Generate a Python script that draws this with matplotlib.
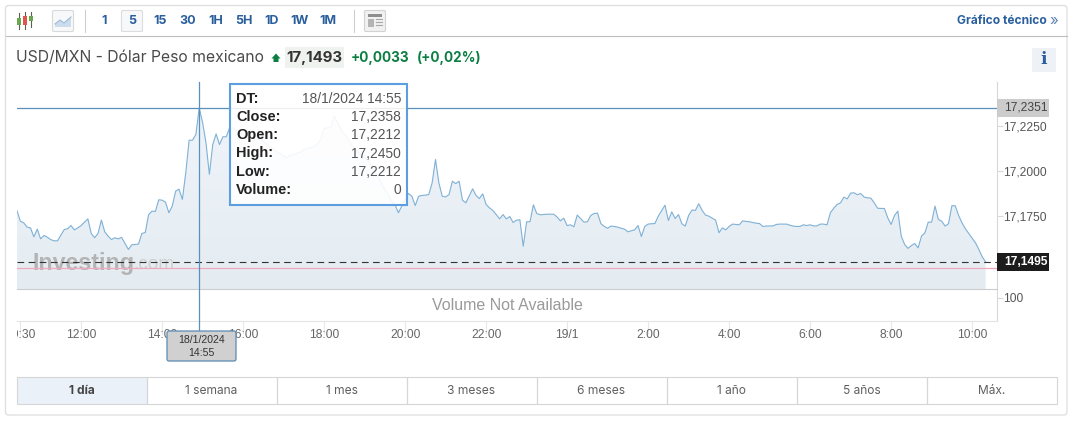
import numpy as np
import matplotlib
matplotlib.use("Agg")
import matplotlib.pyplot as plt
from matplotlib.colors import LinearSegmentedColormap
from matplotlib.patches import FancyBboxPatch, Polygon, Rectangle
from matplotlib.transforms import Bbox

# 5 minute closes from 18/1 10:25 to 19/1 10:20
close = [
    17.1779, 17.1721, 17.1712, 17.1688, 17.1684, 17.1634, 17.1677, 17.1623, 17.1642, 17.1632,
    17.1619, 17.1612, 17.1612, 17.1643, 17.1675, 17.1679, 17.1697, 17.1673, 17.1684, 17.1697,
    17.1716, 17.1734, 17.1653, 17.1629, 17.1653, 17.1727, 17.1662, 17.1638, 17.1619, 17.1629,
    17.1623, 17.1631, 17.1597, 17.1564, 17.1590, 17.1592, 17.1594, 17.1653, 17.1658, 17.1758,
    17.1777, 17.1775, 17.1840, 17.1838, 17.1827, 17.1768, 17.1805, 17.1888, 17.1899, 17.1842,
    17.1990, 17.2171, 17.2171, 17.2203, 17.2350, 17.2268, 17.2156, 17.1981, 17.2147, 17.2206,
    17.2147, 17.2190, 17.2190, 17.2240,
    # behind the tooltip, only faintly visible
    17.2238, 17.2225, 17.2215, 17.2200, 17.2190, 17.2172, 17.2165, 17.2178, 17.2180, 17.2160,
    17.2150, 17.2132, 17.2120, 17.2105, 17.2095, 17.2082, 17.2075, 17.2088, 17.2090, 17.2098,
    17.2105, 17.2118, 17.2125, 17.2130, 17.2135, 17.2150, 17.2175, 17.2235, 17.2240, 17.2245,
    17.2303, 17.2270, 17.2230, 17.2205, 17.2180, 17.2150, 17.2120, 17.2105, 17.2090, 17.2072,
    17.2060, 17.2030, 17.2000, 17.1965, 17.1930, 17.1895, 17.1870,
    17.1832, 17.1814, 17.1768, 17.1805, 17.1842, 17.1875, 17.1860, 17.1808, 17.1860, 17.1864,
    17.1866, 17.1869, 17.1934, 17.2064, 17.1934, 17.1860, 17.1856, 17.1869, 17.1943, 17.1930,
    17.1943, 17.1838, 17.1823, 17.1862, 17.1901, 17.1864, 17.1847, 17.1873, 17.1814, 17.1795,
    17.1781, 17.1757, 17.1734, 17.1758, 17.1734, 17.1747, 17.1714, 17.1727, 17.1729, 17.1582,
    17.1718, 17.1718, 17.1812, 17.1764, 17.1757, 17.1758, 17.1760, 17.1760, 17.1760, 17.1745,
    17.1723, 17.1738, 17.1697, 17.1701, 17.1690, 17.1755, 17.1736, 17.1716, 17.1718, 17.1753,
    17.1764, 17.1766, 17.1708, 17.1692, 17.1682, 17.1694, 17.1692, 17.1688, 17.1682, 17.1677,
    17.1662, 17.1668, 17.1673, 17.1697, 17.1636, 17.1692, 17.1705, 17.1707, 17.1708, 17.1749,
    17.1779, 17.1810, 17.1725, 17.1773, 17.1736, 17.1758, 17.1707, 17.1694, 17.1753, 17.1783,
    17.1781, 17.1818, 17.1781, 17.1755, 17.1749, 17.1738, 17.1727, 17.1657, 17.1684, 17.1673,
    17.1692, 17.1705, 17.1703, 17.1701, 17.1723, 17.1720, 17.1718, 17.1714, 17.1710, 17.1708,
    17.1692, 17.1694, 17.1695, 17.1695, 17.1703, 17.1705, 17.1705, 17.1705, 17.1699, 17.1694,
    17.1692, 17.1692, 17.1701, 17.1697, 17.1701, 17.1695, 17.1695, 17.1705, 17.1705, 17.1701,
    17.1768, 17.1793, 17.1814, 17.1823, 17.1855, 17.1845, 17.1877, 17.1879, 17.1868, 17.1875,
    17.1855, 17.1851, 17.1849, 17.1823, 17.1793, 17.1792, 17.1792, 17.1740, 17.1703, 17.1753,
    17.1777, 17.1638, 17.1592, 17.1570, 17.1586, 17.1597, 17.1573, 17.1638, 17.1656, 17.1716,
    17.1716, 17.1805, 17.1731, 17.1721, 17.1694, 17.1707, 17.1807, 17.1807, 17.1753, 17.1712,
    17.1679, 17.1653, 17.1627, 17.1601, 17.1564, 17.1523, 17.1495,
]

time_ticks = [1, 19, 43, 67, 91, 115, 139, 163, 187, 211, 235, 259, 283]
time_labels = ["10:30", "12:00", "14:00", "16:00", "18:00", "20:00", "22:00",
               "19/1", "2:00", "4:00", "6:00", "8:00", "10:00"]
price_ticks = [17.2250, 17.2000, 17.1750]
price_labels = ["17,2250", "17,2000", "17,1750"]

hover_bar = 54
hover_price = 17.2351
last_price = 17.1495
prev_close = 17.1460

tooltip_rows = [("DT:", "18/1/2024 14:55"), ("Close:", "17,2358"), ("Open:", "17,2212"),
                ("High:", "17,2450"), ("Low:", "17,2212"), ("Volume:", "0")]
intervals = ["1", "5", "15", "30", "1H", "5H", "1D", "1W", "1M"]
ranges = ["1 día", "1 semana", "1 mes", "3 meses", "6 meses", "1 año", "5 años", "Máx."]

W, H = 1074, 423
ARIAL = "Liberation Sans"
INTER = "Inter"
BLUE = "#2a5f9e"
GREEN = "#0b7f42"


def pt(px):
    return px * 0.72


def axes_at(left, top, right, bottom, **kw):
    return fig.add_axes([left / W, 1 - bottom / H, (right - left) / W, (bottom - top) / H], **kw)


def box(ax, x0, y0, x1, y1, fc, ec="none", lw=0.7, r=1.5, **kw):
    ax.add_patch(FancyBboxPatch((x0, y0), x1 - x0, y1 - y0, boxstyle=f"round,pad=0,rounding_size={r}",
                                fc=fc, ec=ec, lw=lw, **kw))


fig = plt.figure(figsize=(W / 100, H / 100), dpi=100, facecolor="white")

# page chrome, in pixel coordinates
bg = axes_at(0, 0, W, H)
bg.set_xlim(0, W)
bg.set_ylim(H, 0)
bg.axis("off")
box(bg, 5.5, 5.5, 1067, 415, "white", "#dedede", 0.9, r=3)
bg.plot([5.5, 1067], [36.5, 36.5], color="#bdbdbd", lw=0.8)

# toolbar
for sx in (84.5, 353.5):
    bg.plot([sx, sx], [10, 32], color="#cfcfcf", lw=0.8)
for cx, y0, y1, b0, b1, col in [(19, 13, 29, 18, 25, "#6aa84f"), (25, 12, 29, 16, 25, "#e0564f"),
                                (31, 12, 27, 16, 21, "#6aa84f")]:
    bg.plot([cx, cx], [y0, y1], color="#5f5f4f", lw=0.8)
    bg.add_patch(Rectangle((cx - 2, b0), 4, b1 - b0, fc=col, ec="none", zorder=3))
box(bg, 52.5, 10.5, 73.5, 31.5, "#f6f8fa", "#d9d9d9", 0.8)
bg.add_patch(Polygon([(55, 27), (55, 24), (60, 20), (64, 23), (71, 17), (71, 27)], fc="#cbdcec", ec="none"))
bg.plot([55, 60, 64, 71], [24, 20, 23, 17], color="#9dbbd6", lw=0.8)
box(bg, 121.5, 10.5, 142.5, 31.5, "#f6f8fa", "#dcdcdc", 0.8)
for i, lab in enumerate(intervals):
    bg.text(104 + 28 * i, 21, lab, family=INTER, weight="bold", size=pt(12.5), color=BLUE, ha="center", va="center")
box(bg, 364.5, 10.5, 385.5, 31.5, "#f1f1f1", "#d2d2d2", 0.8)
bg.add_patch(Rectangle((368, 14), 14, 3, fc="#8e8e8e", ec="none", zorder=3))
bg.add_patch(Rectangle((368, 19), 6, 8, fc="#b4b4b4", ec="none", zorder=3))
for ly in (19.5, 22.5, 25.5):
    bg.plot([376, 382], [ly, ly], color="#a8a8a8", lw=0.8)
bg.text(957, 21, "Gráfico técnico", family=INTER, weight="bold", size=pt(12), color=BLUE, ha="left", va="center")
bg.text(1054, 20.5, "»", family=INTER, size=pt(15), color="#5c83b0", ha="center", va="center")

# quote line
bg.text(16, 58, "USD/MXN - Dólar Peso mexicano", family=INTER, size=pt(15.7), color="#4a4a4a", ha="left", va="center")
bg.add_patch(Polygon([(276, 53.5), (280.5, 58.5), (278.5, 58.5), (278.5, 62), (273.5, 62),
                      (273.5, 58.5), (271.5, 58.5)], fc=GREEN, ec="none"))
box(bg, 285, 47, 344, 68, "#eef3ef", r=1)
bg.text(314.5, 58, "17,1493", family=INTER, weight="bold", size=pt(15), color="#333333", ha="center", va="center")
bg.text(351, 58, "+0,0033", family=INTER, weight="bold", size=pt(13.5), color=GREEN, ha="left", va="center")
bg.text(417, 58, "(+0,02%)", family=INTER, weight="bold", size=pt(13.5), color=GREEN, ha="left", va="center")
box(bg, 1032, 48, 1056, 72, "#eef1f5", r=1)
bg.text(1044, 60, "i", family="DejaVu Serif", weight="bold", size=pt(17), color=BLUE, ha="center", va="center")

# range tabs
bg.add_patch(Rectangle((16.5, 377.5), 130, 27, fc="#eaf1f8", ec="none"))
for i, lab in enumerate(ranges):
    bg.add_patch(Rectangle((16.5 + 130 * i, 377.5), 130, 27, fc="none", ec="#d6d6d6", lw=0.8))
    bg.text(81.5 + 130 * i, 390.5, lab, family=INTER, size=pt(12), weight="bold" if i == 0 else "normal",
            color="#444444" if i == 0 else "#5f5f5f", ha="center", va="center")

# volume pane with the time axis under it
vol = axes_at(17, 289, 997, 321)
vol.patch.set_visible(False)
vol.set_xlim(0, 980 / 3.375)
vol.set_ylim(0, 139)
for side in ("left", "top"):
    vol.spines[side].set_visible(False)
vol.spines["bottom"].set_color("#e4e4e4")
vol.spines["right"].set_color("#d8d8d8")
vol.set_xticks(time_ticks, time_labels)
vol.tick_params(axis="x", length=9, width=0.8, color="#e8e8e8", pad=-3, labelsize=pt(12), labelcolor="#666666")
vol.yaxis.tick_right()
vol.set_yticks([100], ["100"])
vol.tick_params(axis="y", length=4, width=0.8, color="#d8d8d8", pad=0.5, labelsize=pt(12), labelcolor="#555555")
left_clip = Bbox.from_extents(17, 0, W, H)
for lab in vol.get_xticklabels() + vol.get_yticklabels():
    lab.set_family(ARIAL)
    lab.set_clip_box(left_clip)
    lab.set_clip_on(True)
vol.text(0.5, 0.5, "Volume Not Available", transform=vol.transAxes, family=ARIAL, size=pt(16),
         color="#9a9a9a", ha="center", va="center")

# price pane
ax = axes_at(17, 82, 997, 289)
ax.patch.set_visible(False)
bars = np.arange(len(close))
values = np.array(close)
ylim = (17.13444, 17.24944)
xlim = (0, 980 / 3.375)

cmap = LinearSegmentedColormap.from_list("fade", ["#eff4f9", "#e4ecf2"])
area = ax.fill_between(bars, values, ylim[0], facecolor="none", edgecolor="none")
shade = ax.imshow(np.linspace(0, 1, 64)[:, None], extent=(0, bars[-1], ylim[0], 17.2350), origin="upper",
                  aspect="auto", cmap=cmap, zorder=1)
shade.set_clip_path(area.get_paths()[0], transform=ax.transData)
ax.text(15 / 3.375, 17.1485, "Investing", family=ARIAL, weight="bold", size=pt(23.3), color="#b4b4b4",
        ha="left", va="center", zorder=2)
ax.text(116 / 3.375, 17.1480, ".com", family=ARIAL, size=pt(19), color="#cfcfcf", ha="left", va="center", zorder=2)
ax.plot(bars, values, color="#7fb1d6", lw=0.8, zorder=3)
ax.axhline(prev_close, color="#f0a8bd", lw=0.9, zorder=3)
ax.axhline(last_price, color="#333333", lw=0.8, dashes=(6, 4), zorder=4)
ax.axhline(hover_price, color="#5b90bd", lw=0.9, zorder=4)
ax.axvline(hover_bar, ymin=(289 - 335) / 207, ymax=1, color="#5b90bd", lw=0.9, clip_on=False, zorder=4)
ax.set_xlim(xlim)
ax.set_ylim(ylim)
for side in ("left", "top", "bottom"):
    ax.spines[side].set_visible(False)
ax.spines["right"].set_color("#d8d8d8")
ax.spines["bottom"].set_visible(True)
ax.spines["bottom"].set_color("#cccccc")
ax.set_xticks([])
ax.yaxis.tick_right()
ax.set_yticks(price_ticks, price_labels)
ax.tick_params(axis="y", length=4, width=0.8, color="#d8d8d8", pad=0.5, labelsize=pt(12), labelcolor="#555555")
for lab in ax.get_yticklabels():
    lab.set_family(ARIAL)

# price flags on the right axis
flag = ax.get_yaxis_transform()
for price, label, fc, tc, weight in [(hover_price, "17,2351", "#cccccc", "#444444", "normal"),
                                     (last_price, "17,1495", "#1c1c1c", "white", "bold")]:
    ax.add_patch(Rectangle((1, price - 0.005), 52 / 980, 0.01, transform=flag, fc=fc, ec="none", clip_on=False, zorder=5))
    ax.text(1 + 7 / 980, price, label, transform=flag, family=ARIAL, weight=weight, size=pt(12), color=tc,
            ha="left", va="center", zorder=6)

# tooltip and date flag go over everything
fg = axes_at(0, 0, W, H)
fg.set_xlim(0, W)
fg.set_ylim(H, 0)
fg.axis("off")
fg.add_patch(Rectangle((230, 84), 177, 121, fc=(1, 1, 1, 0.9), ec="#5c9ee0", lw=1.5))
fg.plot([232, 405], [108.5, 108.5], color="#eeeeee", lw=0.7)
for (lab, val), y in zip(tooltip_rows, [99, 117, 135, 153.5, 172, 190]):
    fg.text(236, y, lab, family=ARIAL, weight="bold", size=pt(14.5), color="#222222", ha="left", va="center")
    fg.text(401, y, val, family=ARIAL, size=pt(13.8), color="#555555", ha="right", va="center")
box(fg, 167, 331, 236, 361, "#d0d0d0", "#5b8ab3", 0.9, r=2)
fg.text(201.5, 340, "18/1/2024", family=ARIAL, size=pt(10.5), color="#333333", ha="center", va="center")
fg.text(201.5, 353, "14:55", family=ARIAL, size=pt(10.5), color="#333333", ha="center", va="center")

fig.savefig("out.png", dpi=100)
